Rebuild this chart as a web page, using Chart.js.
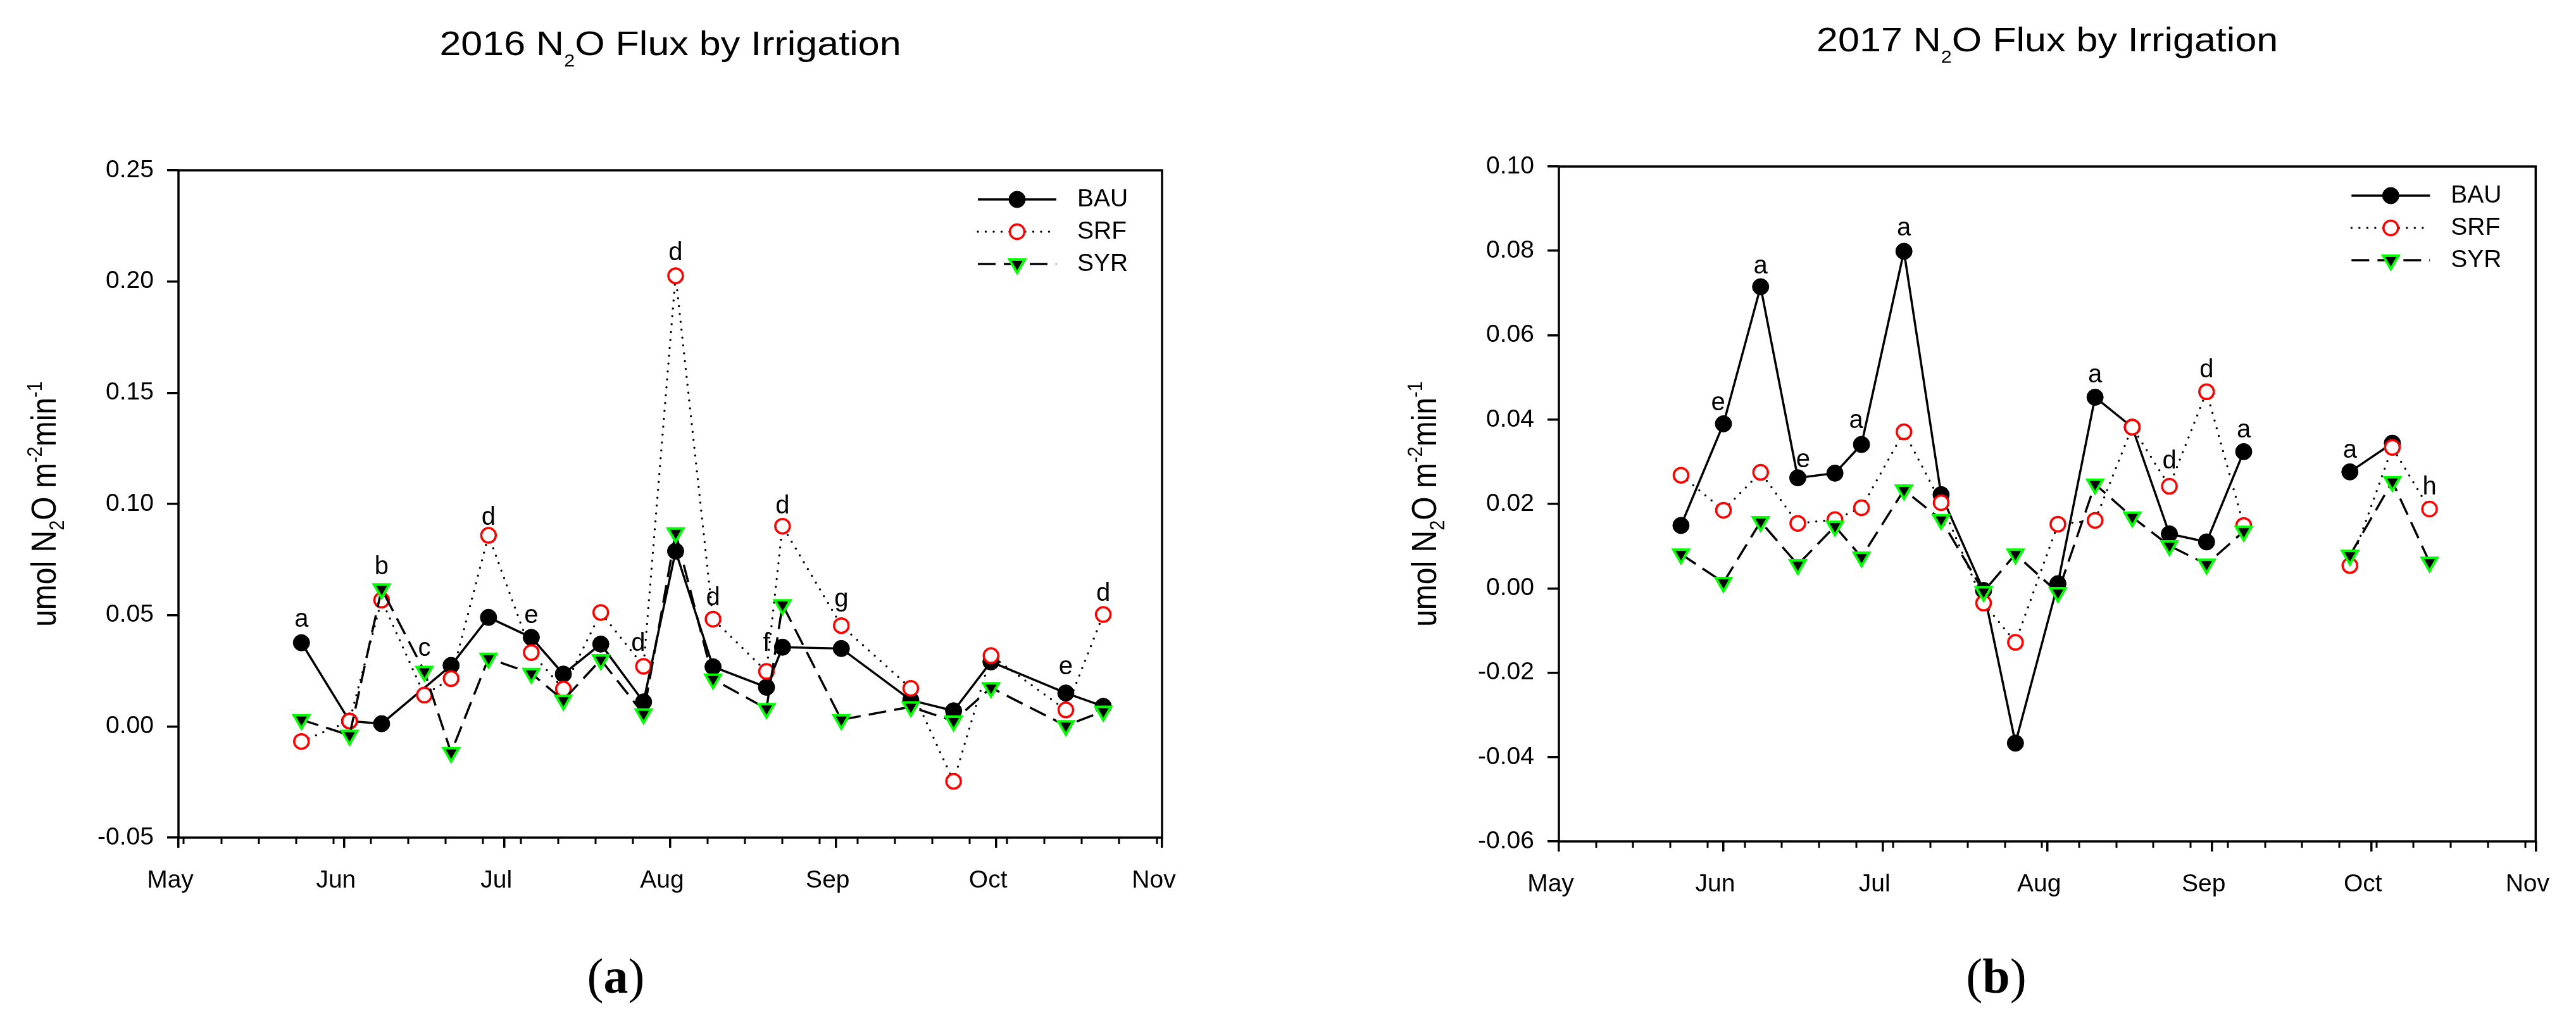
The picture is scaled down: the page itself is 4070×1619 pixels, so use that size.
<!DOCTYPE html>
<html>
<head>
<meta charset="utf-8">
<script src="https://cdn.jsdelivr.net/npm/chart.js@4.4.1/dist/chart.umd.min.js"></script>
<style>
  html, body { margin: 0; padding: 0; background: #fff; width: 4070px; height: 1619px; overflow: hidden; }
  .panel { position: absolute; top: 0; width: 2035px; height: 1619px; }
  #pa { left: 0; }
  #pb { left: 2035px; }
</style>
</head>
<body>
<div class="panel" id="pa"><canvas id="c2016" width="2035" height="1619"></canvas></div>
<div class="panel" id="pb"><canvas id="c2017" width="2035" height="1619"></canvas></div>
<script>
// series names and month axis
var seriesNames = ['BAU', 'SRF', 'SYR'];
var monthLabels = ['May', 'Jun', 'Jul', 'Aug', 'Sep', 'Oct', 'Nov'];

// 2016 sampling dates and fluxes (umol N2O m-2 min-1)
var dates2016 = ['2016-05-24','2016-06-02','2016-06-08','2016-06-16','2016-06-21','2016-06-28','2016-07-06','2016-07-12','2016-07-19','2016-07-27',
                 '2016-08-02','2016-08-09','2016-08-19','2016-08-22','2016-09-02','2016-09-15','2016-09-23','2016-09-30','2016-10-14','2016-10-21'];
var bau2016 = [0.0376, 0.0024, 0.0012, null, 0.0274, 0.0490, 0.0400, 0.0235, 0.0370, 0.0110,
               0.0788, 0.0268, 0.0176, 0.0356, 0.0350, 0.0118, 0.0070, 0.0290, 0.0150, 0.0090];
var srf2016 = [-0.0068, 0.0024, 0.0568, 0.0141, 0.0215, 0.0859, 0.0332, 0.0168, 0.0512, 0.0270,
               0.2026, 0.0482, 0.0247, 0.0900, 0.0453, 0.0171, -0.0247, 0.0318, 0.0074, 0.0503];
var syr2016 = [0.0030, -0.0040, 0.0618, 0.0247, -0.0118, 0.0306, 0.0238, 0.0118, 0.0300, 0.0056,
               0.0870, 0.0212, 0.0080, 0.0547, 0.0030, 0.0088, 0.0024, 0.0174, 0.0003, 0.0068];
var letters2016 = ['a','b','c','d','e','d','d','d','f','d','g','e','d'];
var letterDates2016 = ['2016-05-24','2016-06-08','2016-06-16','2016-06-28','2016-07-06','2016-07-26','2016-08-02','2016-08-09','2016-08-19','2016-08-22','2016-09-02','2016-10-14','2016-10-21'];
var letterVals2016 = [0.0480, 0.0715, 0.0347, 0.0938, 0.0497, 0.0371, 0.2126, 0.0576, 0.0371, 0.0988, 0.0571, 0.0265, 0.0597];

// 2017
var dates2017 = ['2017-05-24','2017-06-01','2017-06-08','2017-06-15','2017-06-22','2017-06-27','2017-07-05','2017-07-12','2017-07-20','2017-07-26',
                 '2017-08-03','2017-08-10','2017-08-17','2017-08-24','2017-08-31','2017-09-07','2017-09-27','2017-10-05','2017-10-12'];
var bau2017 = [0.0149, 0.0390, 0.0715, 0.0262, 0.0273, 0.0341, 0.0799, 0.0222, -0.0005, -0.0367,
               0.0011, 0.0453, 0.0382, 0.0129, 0.0110, 0.0324, 0.0276, 0.0344, null];
var srf2017 = [0.0268, 0.0185, 0.0275, 0.0154, 0.0163, 0.0191, 0.0371, 0.0203, -0.0035, -0.0128,
               0.0152, 0.0161, 0.0382, 0.0242, 0.0466, 0.0149, 0.0054, 0.0334, 0.0188];
var syr2017 = [0.0081, 0.0014, 0.0158, 0.0056, 0.0147, 0.0074, 0.0233, 0.0163, -0.0008, 0.0081,
               -0.0010, 0.0247, 0.0169, 0.0101, 0.0057, 0.0135, 0.0078, 0.0253, 0.0062];
var letters2017 = ['e','a','e','a','a','a','d','d','a','a','h'];
var letterDates2017 = ['2017-05-31','2017-06-08','2017-06-16','2017-06-26','2017-07-05','2017-08-10','2017-08-24','2017-08-31','2017-09-07','2017-09-27','2017-10-12'];
var letterVals2017 = [0.0439, 0.0763, 0.0303, 0.0396, 0.0853, 0.0504, 0.0300, 0.0517, 0.0374, 0.0326, 0.0239];

var SANS = "'Liberation Sans', Arial, sans-serif";
var SERIF = "'Liberation Serif', 'Times New Roman', serif";
Chart.defaults.font.family = SANS;
Chart.defaults.color = '#000';

// days after May 1 of the year
function dayOf(s, year) {
  var p = s.split('-');
  return (Date.UTC(+p[0], +p[1] - 1, +p[2]) - Date.UTC(year, 4, 1)) / 86400000;
}
function pts(dates, vals, year) {
  return dates.map(function (d, i) { return { x: dayOf(d, year), y: vals[i] }; });
}
function monthStarts(year) {
  return monthLabels.map(function (m, i) { return (Date.UTC(year, 4 + i, 1) - Date.UTC(year, 4, 1)) / 86400000; });
}

// draw a run of text pieces (sub/superscripts) centred on x, baseline y
function drawParts(ctx, parts, x, y) {
  var w = 0;
  parts.forEach(function (p) {
    ctx.font = (p.weight || 'normal') + ' ' + p.size + 'px ' + (p.family || SANS);
    p.w = ctx.measureText(p.t).width;
    w += p.w;
  });
  var cx = x - w / 2;
  ctx.textAlign = 'left';
  ctx.textBaseline = 'alphabetic';
  parts.forEach(function (p) {
    ctx.font = (p.weight || 'normal') + ' ' + p.size + 'px ' + (p.family || SANS);
    ctx.fillText(p.t, cx, y + (p.dy || 0));
    cx += p.w;
  });
}

var deco = {
  id: 'deco',
  afterDraw: function (chart, args, o) {
    var ctx = chart.ctx, a = chart.chartArea;
    var xs = chart.scales.x, ys = chart.scales.y;
    ctx.save();
    ctx.fillStyle = '#000';
    ctx.strokeStyle = '#000';

    // frame
    ctx.lineWidth = 3.5;
    ctx.strokeRect(a.left, a.top, a.right - a.left, a.bottom - a.top);

    // weekly minor ticks (Mondays)
    var majors = monthStarts(o.year);
    ctx.lineWidth = 3;
    for (var d = 0; d <= 184; d++) {
      if (new Date(Date.UTC(o.year, 4, 1 + d)).getUTCDay() !== 1) continue;
      if (majors.indexOf(d) >= 0) continue;
      var px = Math.round(xs.getPixelForValue(d));
      ctx.beginPath();
      ctx.moveTo(px, a.bottom);
      ctx.lineTo(px, a.bottom + 10);
      ctx.stroke();
    }

    // title
    ctx.save();
    ctx.translate((a.left + a.right) / 2, a.top - 182);
    ctx.scale(1.13, 1);
    drawParts(ctx, [
      { t: o.year + ' N', size: 54 },
      { t: '2', size: 27, dy: 18 },
      { t: 'O Flux by Irrigation', size: 54 }
    ], 0, 0);
    ctx.restore();

    // y axis title
    ctx.save();
    ctx.translate(a.left - 194, (a.top + a.bottom) / 2);
    ctx.rotate(-Math.PI / 2);
    ctx.scale(1, 1.15);
    drawParts(ctx, [
      { t: 'umol N', size: 48 },
      { t: '2', size: 29, dy: 11 },
      { t: 'O m', size: 48 },
      { t: '-2', size: 29, dy: -19 },
      { t: 'min', size: 48 },
      { t: '-1', size: 29, dy: -19 }
    ], 0, 0);
    ctx.restore();

    // legend
    var rows = [46, 97, 148];
    chart.data.datasets.forEach(function (ds, i) {
      var y = a.top + rows[i];
      ctx.save();
      ctx.strokeStyle = ds.borderColor;
      ctx.lineWidth = ds.borderWidth;
      ctx.setLineDash(ds.borderDash);
      ctx.lineCap = ds.borderCapStyle || 'butt';
      ctx.beginPath();
      ctx.moveTo(a.right - 291, y);
      ctx.lineTo(a.right - 167, y);
      ctx.stroke();
      ctx.setLineDash([]);
      ctx.lineCap = 'butt';
      ctx.fillStyle = ds.pointBackgroundColor;
      ctx.strokeStyle = ds.pointBorderColor;
      ctx.lineWidth = ds.pointBorderWidth;
      Chart.helpers.drawPoint(ctx, {
        pointStyle: ds.pointStyle, radius: ds.pointRadius,
        rotation: ds.pointRotation || 0, borderWidth: ds.pointBorderWidth
      }, a.right - 229, y);
      ctx.fillStyle = '#000';
      ctx.font = '39px ' + SANS;
      ctx.textAlign = 'left';
      ctx.textBaseline = 'middle';
      ctx.fillText(ds.label, a.right - 134, y);
      ctx.restore();
    });

    // letters over the points
    ctx.font = '40px ' + SANS;
    ctx.textAlign = 'center';
    ctx.textBaseline = 'middle';
    o.letters.forEach(function (t, i) {
      ctx.fillText(t, xs.getPixelForValue(dayOf(o.letterDates[i], o.year)), ys.getPixelForValue(o.letterVals[i]));
    });

    // panel tag
    drawParts(ctx, [
      { t: '(', size: 78, family: SERIF },
      { t: o.tag, size: 78, family: SERIF, weight: 'bold' },
      { t: ')', size: 78, family: SERIF }
    ], a.left + 691, 1568);

    ctx.restore();
  }
};

function makeChart(id, p) {
  var styles = [
    { borderColor: '#000', borderWidth: 3.5, borderDash: [], pointStyle: 'circle', pointRadius: 13,
      pointBackgroundColor: '#000', pointBorderColor: '#000', pointBorderWidth: 1, order: 2 },
    { borderColor: '#000', borderWidth: 3.5, borderDash: [0, 12.5], borderCapStyle: 'round', pointStyle: 'circle', pointRadius: 11.5,
      pointBackgroundColor: '#fff', pointBorderColor: '#ff0000', pointBorderWidth: 3.5, order: 1 },
    { borderColor: '#000', borderWidth: 3.5, borderDash: [28, 13], pointStyle: 'triangle', pointRadius: 14, pointRotation: 180,
      pointBackgroundColor: '#000', pointBorderColor: '#00ff00', pointBorderWidth: 4, order: 0 }
  ];
  var datasets = p.series.map(function (vals, i) {
    return Object.assign({
      label: seriesNames[i],
      data: pts(p.dates, vals, p.year),
      fill: false,
      tension: 0,
      spanGaps: p.spanGaps
    }, styles[i]);
  });
  var majors = monthStarts(p.year);
  var yAxisW = 150, xAxisH = 120;

  return new Chart(document.getElementById(id), {
    type: 'line',
    data: { datasets: datasets },
    plugins: [deco],
    options: {
      responsive: false,
      devicePixelRatio: 1,
      animation: false,
      events: [],
      layout: {
        padding: { left: p.area.left - yAxisW, right: 2035 - p.area.right, top: p.area.top, bottom: 1619 - p.area.bottom - xAxisH }
      },
      plugins: {
        legend: { display: false },
        title: { display: false },
        tooltip: { enabled: false },
        deco: { year: p.year, tag: p.tag, letters: p.letters, letterDates: p.letterDates, letterVals: p.letterVals }
      },
      scales: {
        x: {
          type: 'linear', min: 0, max: 184,
          afterBuildTicks: function (s) { s.ticks = majors.map(function (v) { return { value: v }; }); },
          afterFit: function (s) { s.height = xAxisH; },
          grid: { drawOnChartArea: false, drawTicks: true, tickLength: 16, lineWidth: 3.5, color: '#000' },
          border: { display: false },
          ticks: {
            autoSkip: false, maxRotation: 0, padding: 29, labelOffset: -13,
            font: { size: 39 }, color: '#000',
            callback: function (v, i) { return monthLabels[i]; }
          }
        },
        y: {
          type: 'linear', min: p.yMin, max: p.yMax,
          afterFit: function (s) { s.width = yAxisW; },
          grid: { drawOnChartArea: false, drawTicks: true, tickLength: 18, lineWidth: 3.5, color: '#000' },
          border: { display: false },
          ticks: {
            stepSize: p.yStep, padding: 21, font: { size: 39 }, color: '#000',
            callback: function (v) { return Math.abs(v) < 1e-9 ? '0.00' : v.toFixed(2); }
          }
        }
      }
    }
  });
}

makeChart('c2016', {
  year: 2016, tag: 'a',
  dates: dates2016, series: [bau2016, srf2016, syr2016], spanGaps: true,
  letters: letters2016, letterDates: letterDates2016, letterVals: letterVals2016,
  yMin: -0.05, yMax: 0.25, yStep: 0.05,
  area: { left: 282, right: 1836, top: 269, bottom: 1323 }
});

makeChart('c2017', {
  year: 2017, tag: 'b',
  dates: dates2017, series: [bau2017, srf2017, syr2017], spanGaps: 14,
  letters: letters2017, letterDates: letterDates2017, letterVals: letterVals2017,
  yMin: -0.06, yMax: 0.10, yStep: 0.02,
  area: { left: 428, right: 1982, top: 263, bottom: 1329 }
});
</script>
</body>
</html>
